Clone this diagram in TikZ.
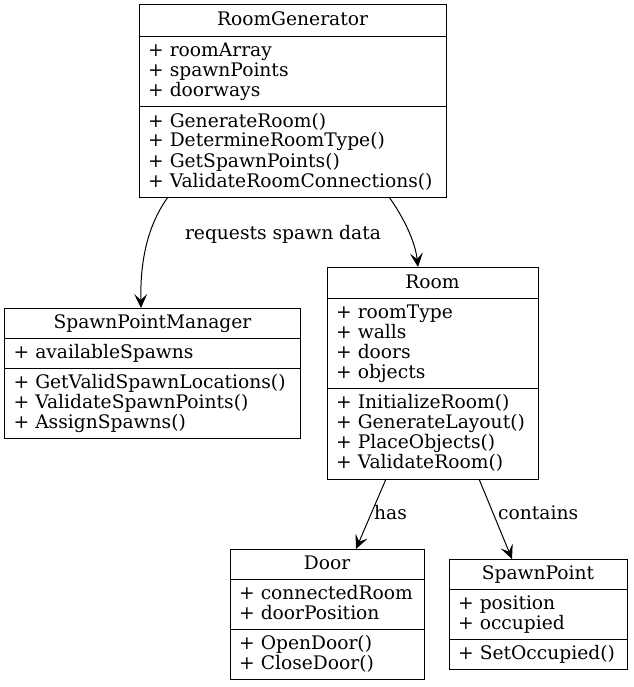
\documentclass[tikz,border=0pt]{standalone}
\usepackage{fontspec}
\setmainfont{DejaVu Serif}
\usetikzlibrary{arrows.meta,calc}
\begin{document}
\begin{tikzpicture}[x=1pt,y=-1pt,
  cls/.style={draw, line width=1pt, inner sep=0pt, outer sep=0pt, anchor=north west},
  ttl/.style={anchor=base, inner sep=0pt, font=\fontsize{18.67}{20}\selectfont},
  mem/.style={anchor=base west, inner sep=0pt, align=left, font=\fontsize{18.67}{20}\selectfont},
  divl/.style={line width=1pt},
  rel/.style={-{Stealth[length=14pt,width=13pt,inset=6pt]}, line width=1pt},
  lbl/.style={font=\fontsize{18.67}{20}\selectfont, inner sep=0pt}]
\useasboundingbox (0,0) rectangle (633,687);

% RoomGenerator
\node[cls, minimum width=307pt, minimum height=192pt] (rg) at (139,5) {};
\draw[divl] (rg.west |- 0,36.5) -- (rg.east |- 0,36.5);
\draw[divl] (rg.west |- 0,106.5) -- (rg.east |- 0,106.5);
\node[ttl] (rgt) at (292.5,26) {RoomGenerator};
\node[mem] (rga) at (148,97) {+ roomArray\\+ spawnPoints\\+ doorways};
\node[mem] (rgm) at (148,187) {+ GenerateRoom()\\+ DetermineRoomType()\\+ GetSpawnPoints()\\+ ValidateRoomConnections()};

% SpawnPointManager
\node[cls, minimum width=296pt, minimum height=130pt] (spm) at (4.5,308) {};
\draw[divl] (spm.west |- 0,338) -- (spm.east |- 0,338);
\draw[divl] (spm.west |- 0,368) -- (spm.east |- 0,368);
\node[ttl] (spmt) at (152.5,328) {SpawnPointManager};
\node[mem] (spma) at (13.5,358) {+ availableSpawns};
\node[mem] (spmm) at (13.5,428) {+ GetValidSpawnLocations()\\+ ValidateSpawnPoints()\\+ AssignSpawns()};

% Room
\node[cls, minimum width=211pt, minimum height=212pt] (room) at (327,267) {};
\draw[divl] (room.west |- 0,298) -- (room.east |- 0,298);
\draw[divl] (room.west |- 0,388) -- (room.east |- 0,388);
\node[ttl] (roomt) at (432.5,288) {Room};
\node[mem] (rooma) at (336,378) {+ roomType\\+ walls\\+ doors\\+ objects};
\node[mem] (roomm) at (336,468) {+ InitializeRoom()\\+ GenerateLayout()\\+ PlaceObjects()\\+ ValidateRoom()};

% Door
\node[cls, minimum width=194pt, minimum height=130pt] (door) at (230,549) {};
\draw[divl] (door.west |- 0,579) -- (door.east |- 0,579);
\draw[divl] (door.west |- 0,629) -- (door.east |- 0,629);
\node[ttl] (doort) at (327,569) {Door};
\node[mem] (doora) at (239,619) {+ connectedRoom\\+ doorPosition};
\node[mem] (doorm) at (239,669) {+ OpenDoor()\\+ CloseDoor()};

% SpawnPoint
\node[cls, minimum width=178pt, minimum height=110pt] (sp) at (449,559) {};
\draw[divl] (sp.west |- 0,589) -- (sp.east |- 0,589);
\draw[divl] (sp.west |- 0,639) -- (sp.east |- 0,639);
\node[ttl] (spt) at (538,579) {SpawnPoint};
\node[mem] (spa) at (458,629) {+ position\\+ occupied};
\node[mem] (spm2) at (458,659) {+ SetOccupied()};

% connectors
\draw[rel] ([xshift=-124.5pt]rg.south) .. controls (150,222) and (140,255) .. ([xshift=-11.5pt]spm.north);
\node[lbl] (l1) at (283,234) {requests spawn data};
\draw[rel] ([xshift=96.5pt]rg.south) .. controls (402,215) and (415,240) .. ([xshift=-14.5pt]room.north);
\draw[rel] ([xshift=-46.5pt]room.south) -- ([xshift=29pt]door.north);
\node[lbl, anchor=west] (l2) at (374,513) {has};
\draw[rel] ([xshift=46.5pt]room.south) -- ([xshift=-26pt]sp.north);
\node[lbl, anchor=west] (l3) at (498,513) {contains};
\end{tikzpicture}
\end{document}
